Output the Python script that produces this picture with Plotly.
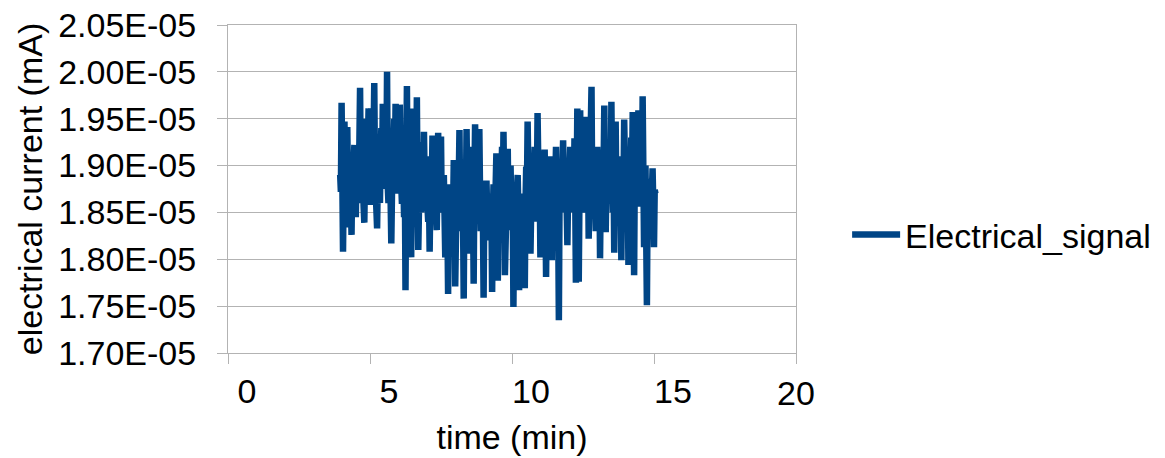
import plotly.graph_objects as go

# time (min)
time_min = [
    3.950, 3.975, 4.000, 4.025, 4.050, 4.075, 4.100, 4.125, 4.150, 4.175, 4.200, 4.225, 4.250, 4.275, 4.300, 4.325, 4.350, 4.375, 4.400, 4.425,
    4.450, 4.475, 4.500, 4.525, 4.550, 4.575, 4.600, 4.625, 4.650, 4.675, 4.700, 4.725, 4.750, 4.775, 4.800, 4.825, 4.850, 4.875, 4.900, 4.925,
    4.950, 4.975, 5.000, 5.025, 5.050, 5.075, 5.100, 5.125, 5.150, 5.175, 5.200, 5.225, 5.250, 5.275, 5.300, 5.325, 5.350, 5.375, 5.400, 5.425,
    5.450, 5.475, 5.500, 5.525, 5.550, 5.575, 5.600, 5.625, 5.650, 5.675, 5.700, 5.725, 5.750, 5.775, 5.800, 5.825, 5.850, 5.875, 5.900, 5.925,
    5.950, 5.975, 6.000, 6.025, 6.050, 6.075, 6.100, 6.125, 6.150, 6.175, 6.200, 6.225, 6.250, 6.275, 6.300, 6.325, 6.350, 6.375, 6.400, 6.425,
    6.450, 6.475, 6.500, 6.525, 6.550, 6.575, 6.600, 6.625, 6.650, 6.675, 6.700, 6.725, 6.750, 6.775, 6.800, 6.825, 6.850, 6.875, 6.900, 6.925,
    6.950, 6.975, 7.000, 7.025, 7.050, 7.075, 7.100, 7.125, 7.150, 7.175, 7.200, 7.225, 7.250, 7.275, 7.300, 7.325, 7.350, 7.375, 7.400, 7.425,
    7.450, 7.475, 7.500, 7.525, 7.550, 7.575, 7.600, 7.625, 7.650, 7.675, 7.700, 7.725, 7.750, 7.775, 7.800, 7.825, 7.850, 7.875, 7.900, 7.925,
    7.950, 7.975, 8.000, 8.025, 8.050, 8.075, 8.100, 8.125, 8.150, 8.175, 8.200, 8.225, 8.250, 8.275, 8.300, 8.325, 8.350, 8.375, 8.400, 8.425,
    8.450, 8.475, 8.500, 8.525, 8.550, 8.575, 8.600, 8.625, 8.650, 8.675, 8.700, 8.725, 8.750, 8.775, 8.800, 8.825, 8.850, 8.875, 8.900, 8.925,
    8.950, 8.975, 9.000, 9.025, 9.050, 9.075, 9.100, 9.125, 9.150, 9.175, 9.200, 9.225, 9.250, 9.275, 9.300, 9.325, 9.350, 9.375, 9.400, 9.425,
    9.450, 9.475, 9.500, 9.525, 9.550, 9.575, 9.600, 9.625, 9.650, 9.675, 9.700, 9.725, 9.750, 9.775, 9.800, 9.825, 9.850, 9.875, 9.900, 9.925,
    9.950, 9.975, 10.000, 10.025, 10.050, 10.075, 10.100, 10.125, 10.150, 10.175, 10.200, 10.225, 10.250, 10.275, 10.300, 10.325, 10.350, 10.375, 10.400, 10.425,
    10.450, 10.475, 10.500, 10.525, 10.550, 10.575, 10.600, 10.625, 10.650, 10.675, 10.700, 10.725, 10.750, 10.775, 10.800, 10.825, 10.850, 10.875, 10.900, 10.925,
    10.950, 10.975, 11.000, 11.025, 11.050, 11.075, 11.100, 11.125, 11.150, 11.175, 11.200, 11.225, 11.250, 11.275, 11.300, 11.325, 11.350, 11.375, 11.400, 11.425,
    11.450, 11.475, 11.500, 11.525, 11.550, 11.575, 11.600, 11.625, 11.650, 11.675, 11.700, 11.725, 11.750, 11.775, 11.800, 11.825, 11.850, 11.875, 11.900, 11.925,
    11.950, 11.975, 12.000, 12.025, 12.050, 12.075, 12.100, 12.125, 12.150, 12.175, 12.200, 12.225, 12.250, 12.275, 12.300, 12.325, 12.350, 12.375, 12.400, 12.425,
    12.450, 12.475, 12.500, 12.525, 12.550, 12.575, 12.600, 12.625, 12.650, 12.675, 12.700, 12.725, 12.750, 12.775, 12.800, 12.825, 12.850, 12.875, 12.900, 12.925,
    12.950, 12.975, 13.000, 13.025, 13.050, 13.075, 13.100, 13.125, 13.150, 13.175, 13.200, 13.225, 13.250, 13.275, 13.300, 13.325, 13.350, 13.375, 13.400, 13.425,
    13.450, 13.475, 13.500, 13.525, 13.550, 13.575, 13.600, 13.625, 13.650, 13.675, 13.700, 13.725, 13.750, 13.775, 13.800, 13.825, 13.850, 13.875, 13.900, 13.925,
    13.950, 13.975, 14.000, 14.025, 14.050, 14.075, 14.100, 14.125, 14.150, 14.175, 14.200, 14.225, 14.250, 14.275, 14.300, 14.325, 14.350, 14.375, 14.400, 14.425,
    14.450, 14.475, 14.500, 14.525, 14.550, 14.575, 14.600, 14.625, 14.650, 14.675, 14.700, 14.725, 14.750, 14.775, 14.800, 14.825, 14.850, 14.875, 14.900, 14.925,
    14.950, 14.975, 15.000, 15.025, 15.050,
]

# electrical current in units of 1E-05 mA
current_e5 = [
    1.890, 1.872, 1.967, 1.905, 1.808, 1.884, 1.947, 1.868, 1.860, 1.912, 1.941, 1.879, 1.834, 1.862, 1.900, 1.858, 1.826, 1.891, 1.880, 1.903,
    1.922, 1.866, 1.845, 1.897, 1.915, 1.884, 1.860, 1.921, 1.983, 1.888, 1.870, 1.909, 1.930, 1.857, 1.839, 1.894, 1.950, 1.876, 1.880, 1.918,
    1.961, 1.883, 1.858, 1.906, 1.961, 1.880, 1.870, 1.925, 1.988, 1.894, 1.880, 1.861, 1.833, 1.889, 1.925, 1.871, 1.860, 1.912, 1.940, 1.886,
    1.966, 1.897, 1.875, 1.903, 1.920, 1.889, 2.000, 1.878, 1.860, 1.915, 1.935, 1.866, 1.817, 1.873, 1.890, 1.908, 1.950, 1.884, 1.966, 1.892,
    1.870, 1.911, 1.940, 1.879, 1.965, 1.901, 1.880, 1.859, 1.930, 1.872, 1.845, 1.890, 1.767, 1.898, 1.985, 1.866, 1.880, 1.914, 1.940, 1.868,
    1.802, 1.887, 1.961, 1.874, 1.850, 1.902, 1.920, 1.881, 1.973, 1.869, 1.810, 1.877, 1.900, 1.862, 1.850, 1.893, 1.925, 1.871, 1.936, 1.884,
    1.860, 1.898, 1.910, 1.856, 1.840, 1.874, 1.808, 1.866, 1.900, 1.879, 1.932, 1.863, 1.860, 1.891, 1.910, 1.852, 1.831, 1.882, 1.935, 1.869,
    1.870, 1.896, 1.931, 1.858, 1.850, 1.885, 1.890, 1.847, 1.802, 1.868, 1.880, 1.841, 1.763, 1.853, 1.860, 1.872, 1.820, 1.861, 1.880, 1.849,
    1.906, 1.857, 1.771, 1.864, 1.870, 1.842, 1.830, 1.876, 1.938, 1.855, 1.850, 1.883, 1.900, 1.846, 1.758, 1.869, 1.880, 1.859, 1.939, 1.873,
    1.806, 1.866, 1.900, 1.851, 1.850, 1.887, 1.920, 1.860, 1.774, 1.878, 1.944, 1.865, 1.860, 1.890, 1.900, 1.848, 1.939, 1.871, 1.830, 1.857,
    1.880, 1.845, 1.759, 1.862, 1.860, 1.838, 1.884, 1.853, 1.820, 1.867, 1.870, 1.844, 1.840, 1.858, 1.765, 1.849, 1.880, 1.866, 1.850, 1.879,
    1.913, 1.856, 1.777, 1.871, 1.890, 1.847, 1.860, 1.883, 1.920, 1.862, 1.936, 1.874, 1.783, 1.859, 1.880, 1.891, 1.918, 1.851, 1.850, 1.876,
    1.900, 1.848, 1.831, 1.868, 1.749, 1.855, 1.860, 1.842, 1.820, 1.873, 1.890, 1.850, 1.767, 1.864, 1.850, 1.839, 1.810, 1.861, 1.870, 1.846,
    1.769, 1.858, 1.899, 1.872, 1.947, 1.853, 1.840, 1.880, 1.806, 1.867, 1.900, 1.849, 1.860, 1.886, 1.920, 1.857, 1.840, 1.875, 1.956, 1.863,
    1.850, 1.884, 1.802, 1.866, 1.900, 1.852, 1.860, 1.889, 1.917, 1.860, 1.781, 1.871, 1.880, 1.848, 1.840, 1.878, 1.910, 1.856, 1.799, 1.868,
    1.880, 1.859, 1.850, 1.887, 1.920, 1.864, 1.860, 1.846, 1.735, 1.870, 1.890, 1.855, 1.850, 1.893, 1.927, 1.866, 1.870, 1.881, 1.900, 1.858,
    1.815, 1.872, 1.880, 1.897, 1.920, 1.861, 1.850, 1.884, 1.900, 1.869, 1.929, 1.876, 1.775, 1.889, 1.961, 1.867, 1.776, 1.882, 1.959, 1.874,
    1.870, 1.901, 1.920, 1.862, 1.850, 1.893, 1.952, 1.879, 1.880, 1.908, 1.822, 1.871, 1.910, 1.886, 1.984, 1.868, 1.850, 1.898, 1.900, 1.876,
    1.830, 1.887, 1.920, 1.865, 1.860, 1.904, 1.801, 1.873, 1.900, 1.882, 1.850, 1.895, 1.964, 1.870, 1.829, 1.889, 1.900, 1.861, 1.860, 1.906,
    1.920, 1.878, 1.968, 1.884, 1.850, 1.899, 1.807, 1.874, 1.947, 1.866, 1.870, 1.902, 1.910, 1.863, 1.850, 1.891, 1.799, 1.880, 1.900, 1.869,
    1.949, 1.887, 1.860, 1.905, 1.920, 1.871, 1.794, 1.893, 1.880, 1.866, 1.930, 1.884, 1.957, 1.875, 1.783, 1.898, 1.880, 1.862, 1.920, 1.889,
    1.959, 1.872, 1.856, 1.894, 1.900, 1.868, 1.974, 1.881, 1.813, 1.877, 1.900, 1.853, 1.751, 1.866, 1.860, 1.885, 1.884, 1.849, 1.830, 1.871,
    1.897, 1.858, 1.813, 1.874, 1.870,
]

series_name = "Electrical_signal"
x_ticks = [0, 5, 10, 15, 20]
y_ticks = [1.70e-5, 1.75e-5, 1.80e-5, 1.85e-5, 1.90e-5, 1.95e-5, 2.00e-5, 2.05e-5]
y_tick_labels = ["1.70E-05", "1.75E-05", "1.80E-05", "1.85E-05",
                 "1.90E-05", "1.95E-05", "2.00E-05", "2.05E-05"]

current = [v * 1e-5 for v in current_e5]

FONT = "Liberation Sans, Arial, sans-serif"
GRID = "#b3b3b3"
LINE_COLOR = "#004586"

fig = go.Figure()
fig.add_trace(go.Scatter(
    x=time_min, y=current, mode="lines", name=series_name,
    line=dict(color=LINE_COLOR, width=6.5),
))

fig.update_layout(
    width=1165, height=458,
    margin=dict(l=228, r=369, t=25, b=105, autoexpand=False),
    paper_bgcolor="white", plot_bgcolor="white",
    font=dict(family=FONT, size=34, color="black"),
    showlegend=True,
    legend=dict(x=1.09, y=0.36, xanchor="left", yanchor="middle",
                itemwidth=48,
                font=dict(family=FONT, size=34, color="black"),
                bgcolor="rgba(0,0,0,0)", borderwidth=0),
)

fig.update_xaxes(
    range=[0, 20], tickvals=x_ticks,
    ticktext=[str(t) if t != x_ticks[-1] else "" for t in x_ticks],
    ticks="outside", ticklen=10, tickcolor=GRID, tickwidth=1,
    ticklabelshift=19, ticklabelstandoff=-2,
    showline=True, linecolor=GRID, linewidth=1, mirror=True,
    showgrid=False, zeroline=False, automargin=False,
    title=dict(text="time (min)", font=dict(family=FONT, size=34), standoff=16),
    tickfont=dict(family=FONT, size=34),
)

fig.update_yaxes(
    range=[1.70e-5, 2.05e-5], tickvals=y_ticks, ticktext=y_tick_labels,
    ticks="outside", ticklen=10, tickcolor=GRID, tickwidth=1,
    ticklabelstandoff=14, ticklabeloverflow="allow",
    showline=True, linecolor=GRID, linewidth=1, mirror=True,
    showgrid=True, gridcolor=GRID, gridwidth=1, zeroline=False, automargin=False,
    title=dict(text="electrical current (mA)", font=dict(family=FONT, size=34), standoff=5),
    tickfont=dict(family=FONT, size=34),
)

# last x tick label sits centred on its tick (not shifted like the others)
fig.add_annotation(
    x=x_ticks[-1], y=0, xref="x", yref="paper",
    text=str(x_ticks[-1]), showarrow=False,
    xanchor="center", yanchor="top", yshift=-19,
    font=dict(family=FONT, size=34, color="black"),
)

# remove the default page margin so the figure fills the window exactly
fig.write_html(
    "out.html",
    config={"displayModeBar": False},
    post_script="document.body.style.margin='0px';",
)
